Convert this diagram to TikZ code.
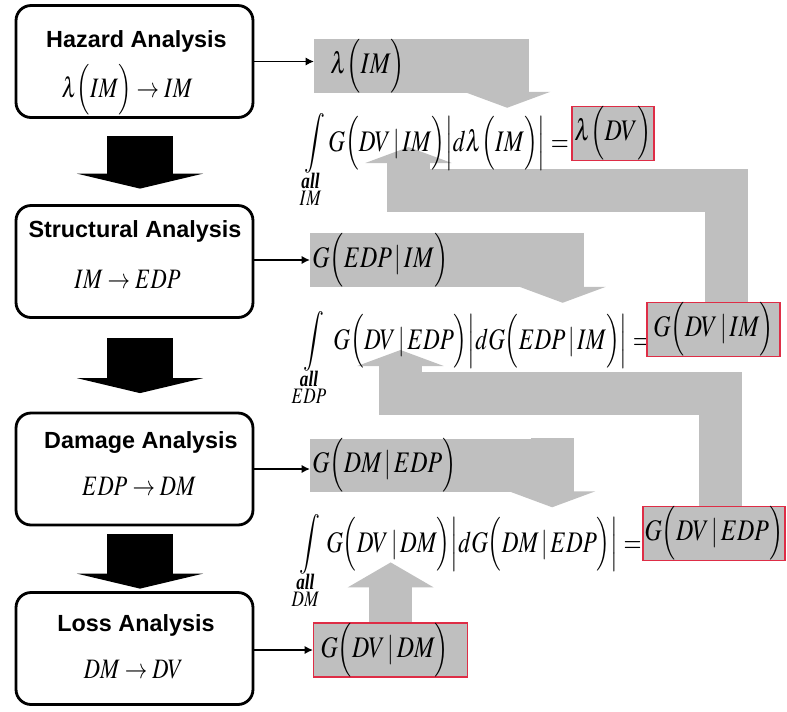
\documentclass[tikz,border=0pt]{standalone}
\usepackage{amsmath}
\usepackage{mathptmx}
\usepackage[no-math]{fontspec}
\setmainfont{Liberation Serif}
\newfontfamily\headfont{Liberation Sans}
\usetikzlibrary{
	arrows.meta,
	calc,
	backgrounds,
	positioning
}
\definecolor{FlowGray}{RGB}{191,191,191}
\definecolor{BoxRed}{RGB}{222,45,70}

\newcommand{\pr}[1]{\Bigl(#1\Bigr)}
\newcommand{\condG}[2]{G\Bigl(#1\,|\,#2\Bigr)}
\newcommand{\absv}[1]{\Bigl|#1\Bigr|}
\newcommand{\alllim}[1]{\raisebox{-0.11cm}[0pt][0pt]{$\substack{\text{\textbf{\textit{all}}}\\ #1}$}}
\newcommand{\squeeze}[2][0.8]{\scalebox{#1}[1]{#2}}

\tikzset{
	stage/.style={draw, line width=1.6pt, rounded corners=0.3cm,
		minimum width=4.74cm, minimum height=2.24cm},
	headtxt/.style={font=\headfont\bfseries\fontsize{13.3}{15}\selectfont, inner sep=0pt, anchor=base},
	boxmath/.style={font=\fontsize{16}{19}\selectfont, inner sep=0pt, anchor=base},
	eqn/.style={font=\fontsize{17}{20}\selectfont, inner sep=0pt, anchor=base west},
	inbox/.style={fill=FlowGray, anchor=west, align=left, inner ysep=0pt,
		font=\fontsize{17}{20}\selectfont},
	result/.style={fill=FlowGray, draw=BoxRed, line width=0.8pt, inner sep=0pt,
		font=\fontsize{17}{20}\selectfont},
	feed/.style={line width=1.1pt, -{Latex[length=0.17cm,width=0.17cm]}},
	stagearrow/.style={line width=1.32cm, -{Triangle[width=2.52cm,length=0.3cm]}},
	flowarr/.style={draw=FlowGray, line width=0.86cm, line join=miter,
		-{Triangle[width=1.72cm,length=0.32cm]}}
}

\begin{document}
\begin{tikzpicture}[x=0.02cm, y=-0.02cm]
	\useasboundingbox (0,0) rectangle (787,711);

	% analysis stages
	\node[stage] (haz) at (134.5,61.5) {};
	\node[stage] (str) at (134.5,261.5) {};
	\node[stage] (dam) at (134.5,469) {};
	\node[stage] (los) at (134.5,648.5) {};

	\node[headtxt] (hazT) at (136.5,47) {Hazard Analysis};
	\node[boxmath] (hazM) at (127,97) {\squeeze{$\lambda\pr{IM}\rightarrow IM$}};
	\node[headtxt] (strT) at (135,237) {Structural Analysis};
	\node[boxmath] (strM) at (127.5,288) {\squeeze{$IM\rightarrow EDP$}};
	\node[headtxt] (damT) at (141,448) {Damage Analysis};
	\node[boxmath] (damM) at (139,495) {\squeeze{$EDP\rightarrow DM$}};
	\node[headtxt] (losT) at (136,631) {Loss Analysis};
	\node[boxmath] (losM) at (133.5,678) {\squeeze{$DM\rightarrow DV$}};

	\draw[stagearrow] ($(haz.south)+(5.5,17.5)$) -- ($(str.north)+(5.5,-15.5)$);
	\draw[stagearrow] ($(str.south)+(5.5,19.5)$) -- ($(dam.north)+(5.5,-18.5)$);
	\draw[stagearrow] ($(dam.south)+(5.5,8)$) -- ($(los.north)+(5.5,-2.5)$);

	% inputs
	\node[inbox, minimum width=4.28cm, minimum height=0.92cm, inner xsep=0.32cm,
		text width=3.64cm] (lamIM) at (314,66) {\squeeze{$\lambda\pr{IM}$}};
	\node[inbox, minimum width=5.46cm, minimum height=0.92cm, inner xsep=0.04cm,
		text width=5.38cm] (edpIM) at (310,260) {\squeeze{$\condG{EDP}{IM}$}};
	\node[inbox, minimum width=5.26cm, minimum height=0.9cm, inner xsep=0.04cm,
		text width=5.18cm] (dmEDP) at (310,465.5) {\squeeze{$\condG{DM}{EDP}$}};
	\node[inbox, draw=BoxRed, line width=0.8pt, minimum width=3.08cm, minimum height=0.88cm,
		inner xsep=0.14cm, text width=2.8cm] (dvDM) at (313,650) {\squeeze{$\condG{DV}{DM}$}};

	\draw[feed] (haz.east) -- (haz.east -| lamIM.west);
	\draw[feed] (str.east |- edpIM.west) -- (edpIM.west);
	\draw[feed] (dam.east) -- (dam.east -| dmEDP.west);
	\draw[feed] (los.east |- dvDM.west) -- (dvDM.west);

	% integrals
	\node[eqn] (eqIM) at (304,151) {\squeeze[0.775]{$\displaystyle\int\limits_{\alllim{IM}}
		\condG{DV}{IM}\absv{d\lambda\pr{IM}}=$}};
	\node[eqn] (eqEDP) at (296,349) {\squeeze[0.775]{$\displaystyle\int\limits_{\alllim{EDP}}
		\condG{DV}{EDP}\absv{d\condG{EDP}{IM}}=$}};
	\node[eqn] (eqDM) at (296,552) {\squeeze[0.775]{$\displaystyle\int\limits_{\alllim{DM}}
		\condG{DV}{DM}\absv{d\condG{DM}{EDP}}=$}};

	\node[result, minimum width=1.64cm, minimum height=0.86cm] (lamDV) at (613,133.5) {\squeeze{$\lambda\pr{DV}$}};
	\node[result, minimum width=2.66cm, minimum height=0.9cm] (dvIM) at (713.5,329.5) {\squeeze{$\condG{DV}{IM}$}};
	\node[result, minimum width=2.84cm, minimum height=0.94cm] (dvEDP) at (714,533.5) {\squeeze{$\condG{DV}{EDP}$}};

	% gray flow arrows
	\begin{scope}[on background layer]
		\coordinate (d1) at ($(lamIM.north east)+(-21.5,0)$);
		\coordinate (d2) at ($(edpIM.north east)+(-21,0)$);
		\coordinate (d3) at ($(dmEDP.north east)+(-21.5,0)$);
		\draw[flowarr] (d1) -- ++(0,69);
		\draw[flowarr] (d2) -- ++(0,70);
		\draw[flowarr] (d3) -- ++(0,69);
		\coordinate (u1) at ($(dvIM.north)+(12.5,0)$);
		\coordinate (u2) at ($(dvEDP.north)+(6,0)$);
		\draw[flowarr] (u1) -- ++(0,-111.5) -| (408.5,147);
		\draw[flowarr] (u2) -- ++(0,-112.5) -| (400.5,350);
		\draw[flowarr, -{Triangle[width=1.7cm,length=0.5cm]}] (dvDM.north) -- ++(0,-60);
	\end{scope}
\end{tikzpicture}
\end{document}
